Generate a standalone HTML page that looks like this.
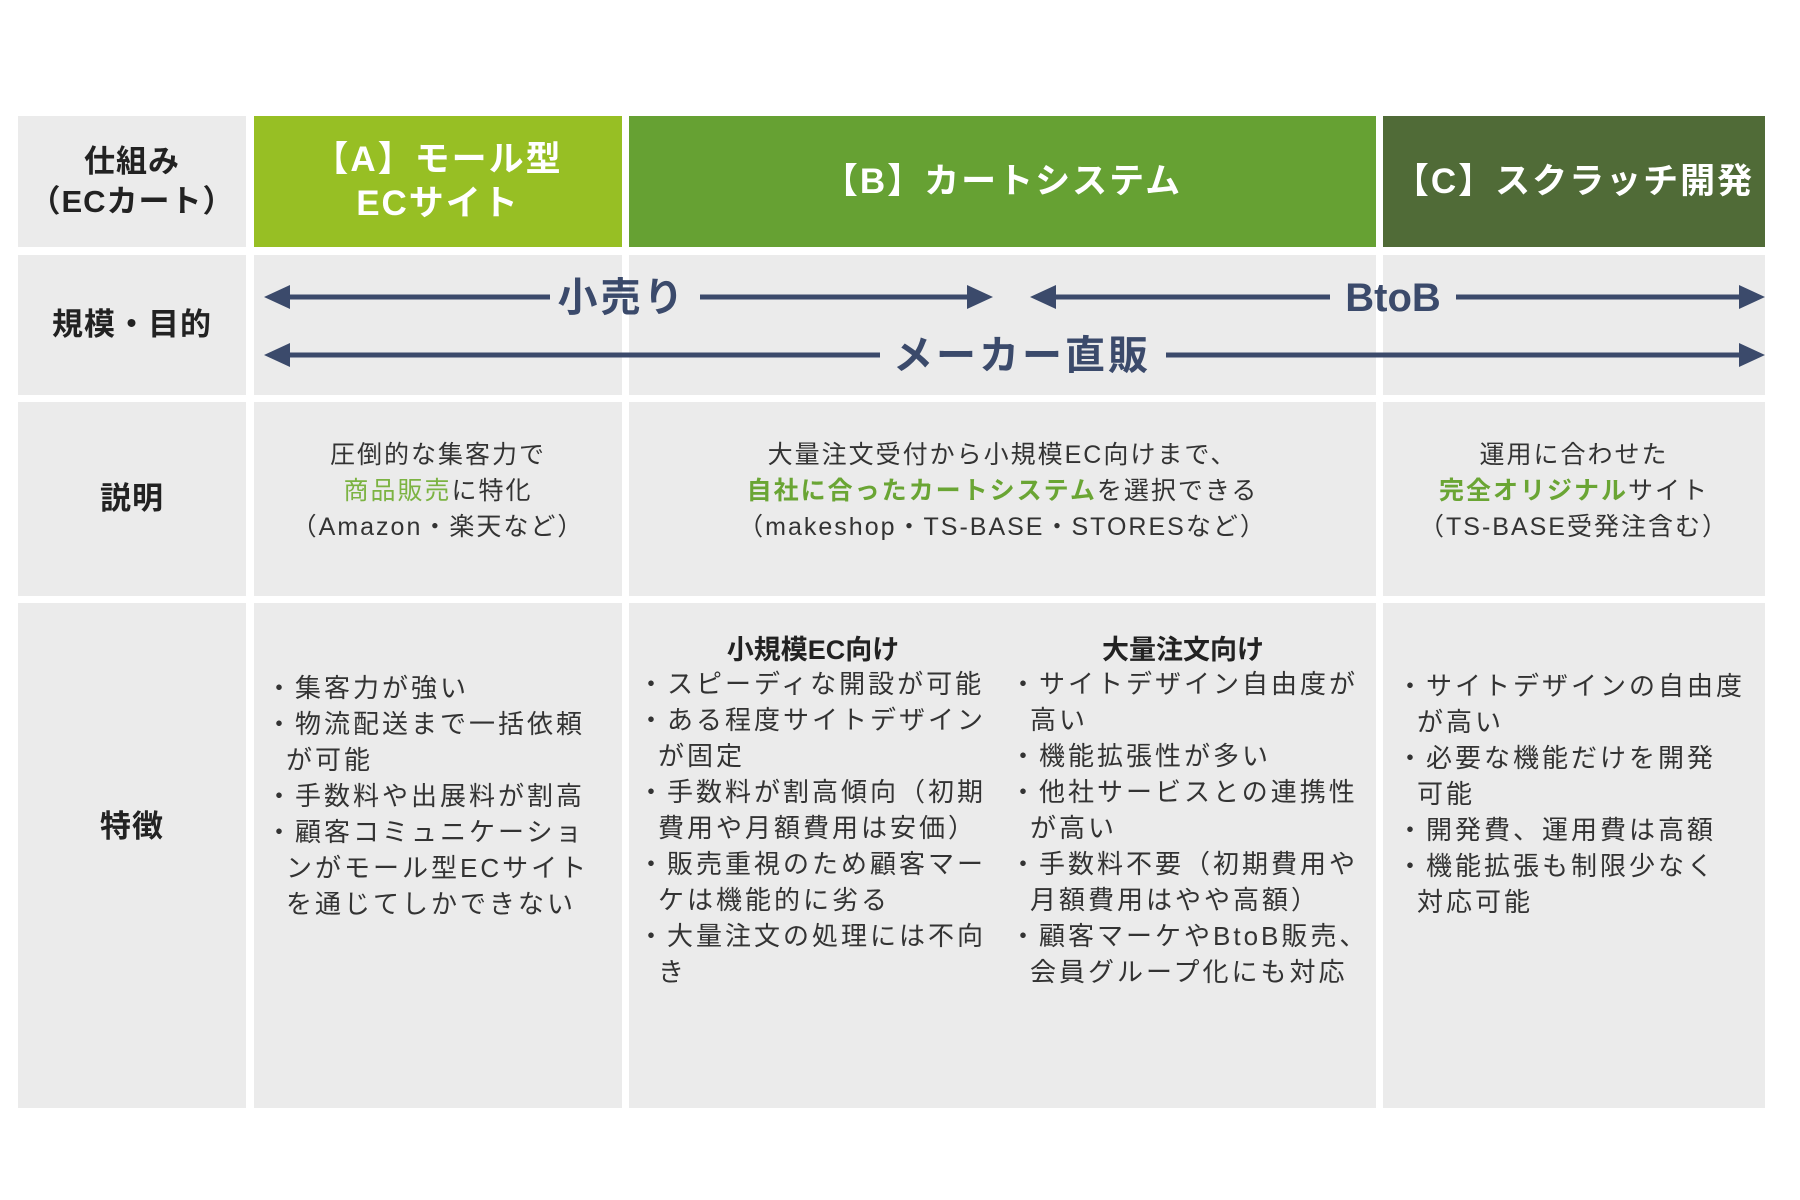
<!DOCTYPE html>
<html><head><meta charset="utf-8"><style>
body{margin:0;width:1800px;height:1200px;background:#fff;position:relative;overflow:hidden;font-family:"Liberation Sans","Noto Sans CJK JP",sans-serif;}
.c{position:absolute;background:#ebebeb;}
.h{position:absolute;color:#fff;font-weight:bold;font-size:35px;display:flex;align-items:center;justify-content:center;text-align:center;line-height:44px;letter-spacing:2px;}
.lab{display:flex;align-items:center;justify-content:center;text-align:center;font-weight:bold;font-size:31px;color:#222;line-height:40px;letter-spacing:1px;}
.d{position:absolute;text-align:center;font-size:25px;line-height:36px;color:#333;letter-spacing:2px;}
.g{color:#7cb342;}
.gb{color:#6aa534;font-weight:bold;}
.l{position:absolute;font-size:26px;line-height:36px;color:#333;letter-spacing:3px;}
.l div{padding-left:20px;text-indent:-20px;}
.sh{position:absolute;font-size:27px;font-weight:bold;color:#222;text-align:center;}
</style></head><body>
<div class="c lab" style="left:18px;top:116px;width:228px;height:131px;">仕組み<br>（ECカート）</div>
<div class="h" style="left:254px;top:116px;width:368px;height:131px;background:#97bf24;">【A】モール型<br>ECサイト</div>
<div class="h" style="left:629px;top:116px;width:747px;height:131px;background:#66a133;">【B】カートシステム</div>
<div class="h" style="left:1383px;top:116px;width:382px;height:131px;background:#506b37;">【C】スクラッチ開発</div>
<div class="c lab" style="left:18px;top:255px;width:228px;height:140px;">規模・目的</div>
<div class="c" style="left:254px;top:255px;width:368px;height:140px;"></div>
<div class="c" style="left:629px;top:255px;width:747px;height:140px;"></div>
<div class="c" style="left:1383px;top:255px;width:382px;height:140px;"></div>
<div class="c lab" style="left:18px;top:402px;width:228px;height:194px;">説明</div>
<div class="c" style="left:254px;top:402px;width:368px;height:194px;"></div>
<div class="c" style="left:629px;top:402px;width:747px;height:194px;"></div>
<div class="c" style="left:1383px;top:402px;width:382px;height:194px;"></div>
<div class="c lab" style="left:18px;top:603px;width:228px;height:447px;padding-bottom:58px;">特徴</div>
<div class="c" style="left:254px;top:603px;width:368px;height:505px;"></div>
<div class="c" style="left:629px;top:603px;width:747px;height:505px;"></div>
<div class="c" style="left:1383px;top:603px;width:382px;height:505px;"></div>

<svg style="position:absolute;left:0;top:0" width="1800" height="1200">
<g stroke="#3b4a6b" stroke-width="5" fill="#3b4a6b">
<line x1="280" y1="297" x2="550" y2="297"/><line x1="700" y1="297" x2="975" y2="297"/>
<polygon points="264,297 290,285 290,309" stroke="none"/><polygon points="993,297 967,285 967,309" stroke="none"/>
<line x1="1046" y1="297" x2="1330" y2="297"/><line x1="1456" y1="297" x2="1750" y2="297"/>
<polygon points="1030,297 1056,285 1056,309" stroke="none"/><polygon points="1765,297 1739,285 1739,309" stroke="none"/>
<line x1="280" y1="355" x2="880" y2="355"/><line x1="1166" y1="355" x2="1750" y2="355"/>
<polygon points="264,355 290,343 290,367" stroke="none"/><polygon points="1765,355 1739,343 1739,367" stroke="none"/>
</g>
<g font-family="Liberation Sans,Noto Sans CJK JP,sans-serif" font-weight="bold" font-size="40" fill="#3b4a6b" text-anchor="middle">
<text x="622" y="311" letter-spacing="3">小売り</text>
<text x="1393" y="311">BtoB</text>
<text x="1022" y="369" letter-spacing="3">メーカー直販</text>
</g>
</svg>

<div class="d" style="left:254px;top:437px;width:368px;">圧倒的な集客力で<br><span class="g">商品販売</span>に特化<br>（Amazon・楽天など）</div>
<div class="d" style="left:629px;top:437px;width:747px;">大量注文受付から小規模EC向けまで、<br><span class="gb">自社に合ったカートシステム</span>を選択できる<br>（makeshop・TS-BASE・STORESなど）</div>
<div class="d" style="left:1383px;top:437px;width:382px;">運用に合わせた<br><span class="gb">完全オリジナル</span>サイト<br>（TS-BASE受発注含む）</div>

<div class="l" style="left:266px;top:670px;width:350px;">
<div>・集客力が強い</div>
<div>・物流配送まで一括依頼<br>が可能</div>
<div>・手数料や出展料が割高</div>
<div>・顧客コミュニケーショ<br>ンがモール型ECサイト<br>を通じてしかできない</div>
</div>

<div class="sh" style="left:638px;top:628px;width:350px;">小規模EC向け</div>
<div class="sh" style="left:1008px;top:628px;width:350px;">大量注文向け</div>
<div class="l" style="left:638px;top:666px;width:360px;">
<div>・スピーディな開設が可能</div>
<div>・ある程度サイトデザイン<br>が固定</div>
<div>・手数料が割高傾向（初期<br>費用や月額費用は安価）</div>
<div>・販売重視のため顧客マー<br>ケは機能的に劣る</div>
<div>・大量注文の処理には不向<br>き</div>
</div>
<div class="l" style="left:1010px;top:666px;width:360px;">
<div>・サイトデザイン自由度が<br>高い</div>
<div>・機能拡張性が多い</div>
<div>・他社サービスとの連携性<br>が高い</div>
<div>・手数料不要（初期費用や<br>月額費用はやや高額）</div>
<div>・顧客マーケやBtoB販売、<br>会員グループ化にも対応</div>
</div>

<div class="l" style="left:1397px;top:668px;width:365px;">
<div>・サイトデザインの自由度<br>が高い</div>
<div>・必要な機能だけを開発<br>可能</div>
<div>・開発費、運用費は高額</div>
<div>・機能拡張も制限少なく<br>対応可能</div>
</div>
</body></html>
